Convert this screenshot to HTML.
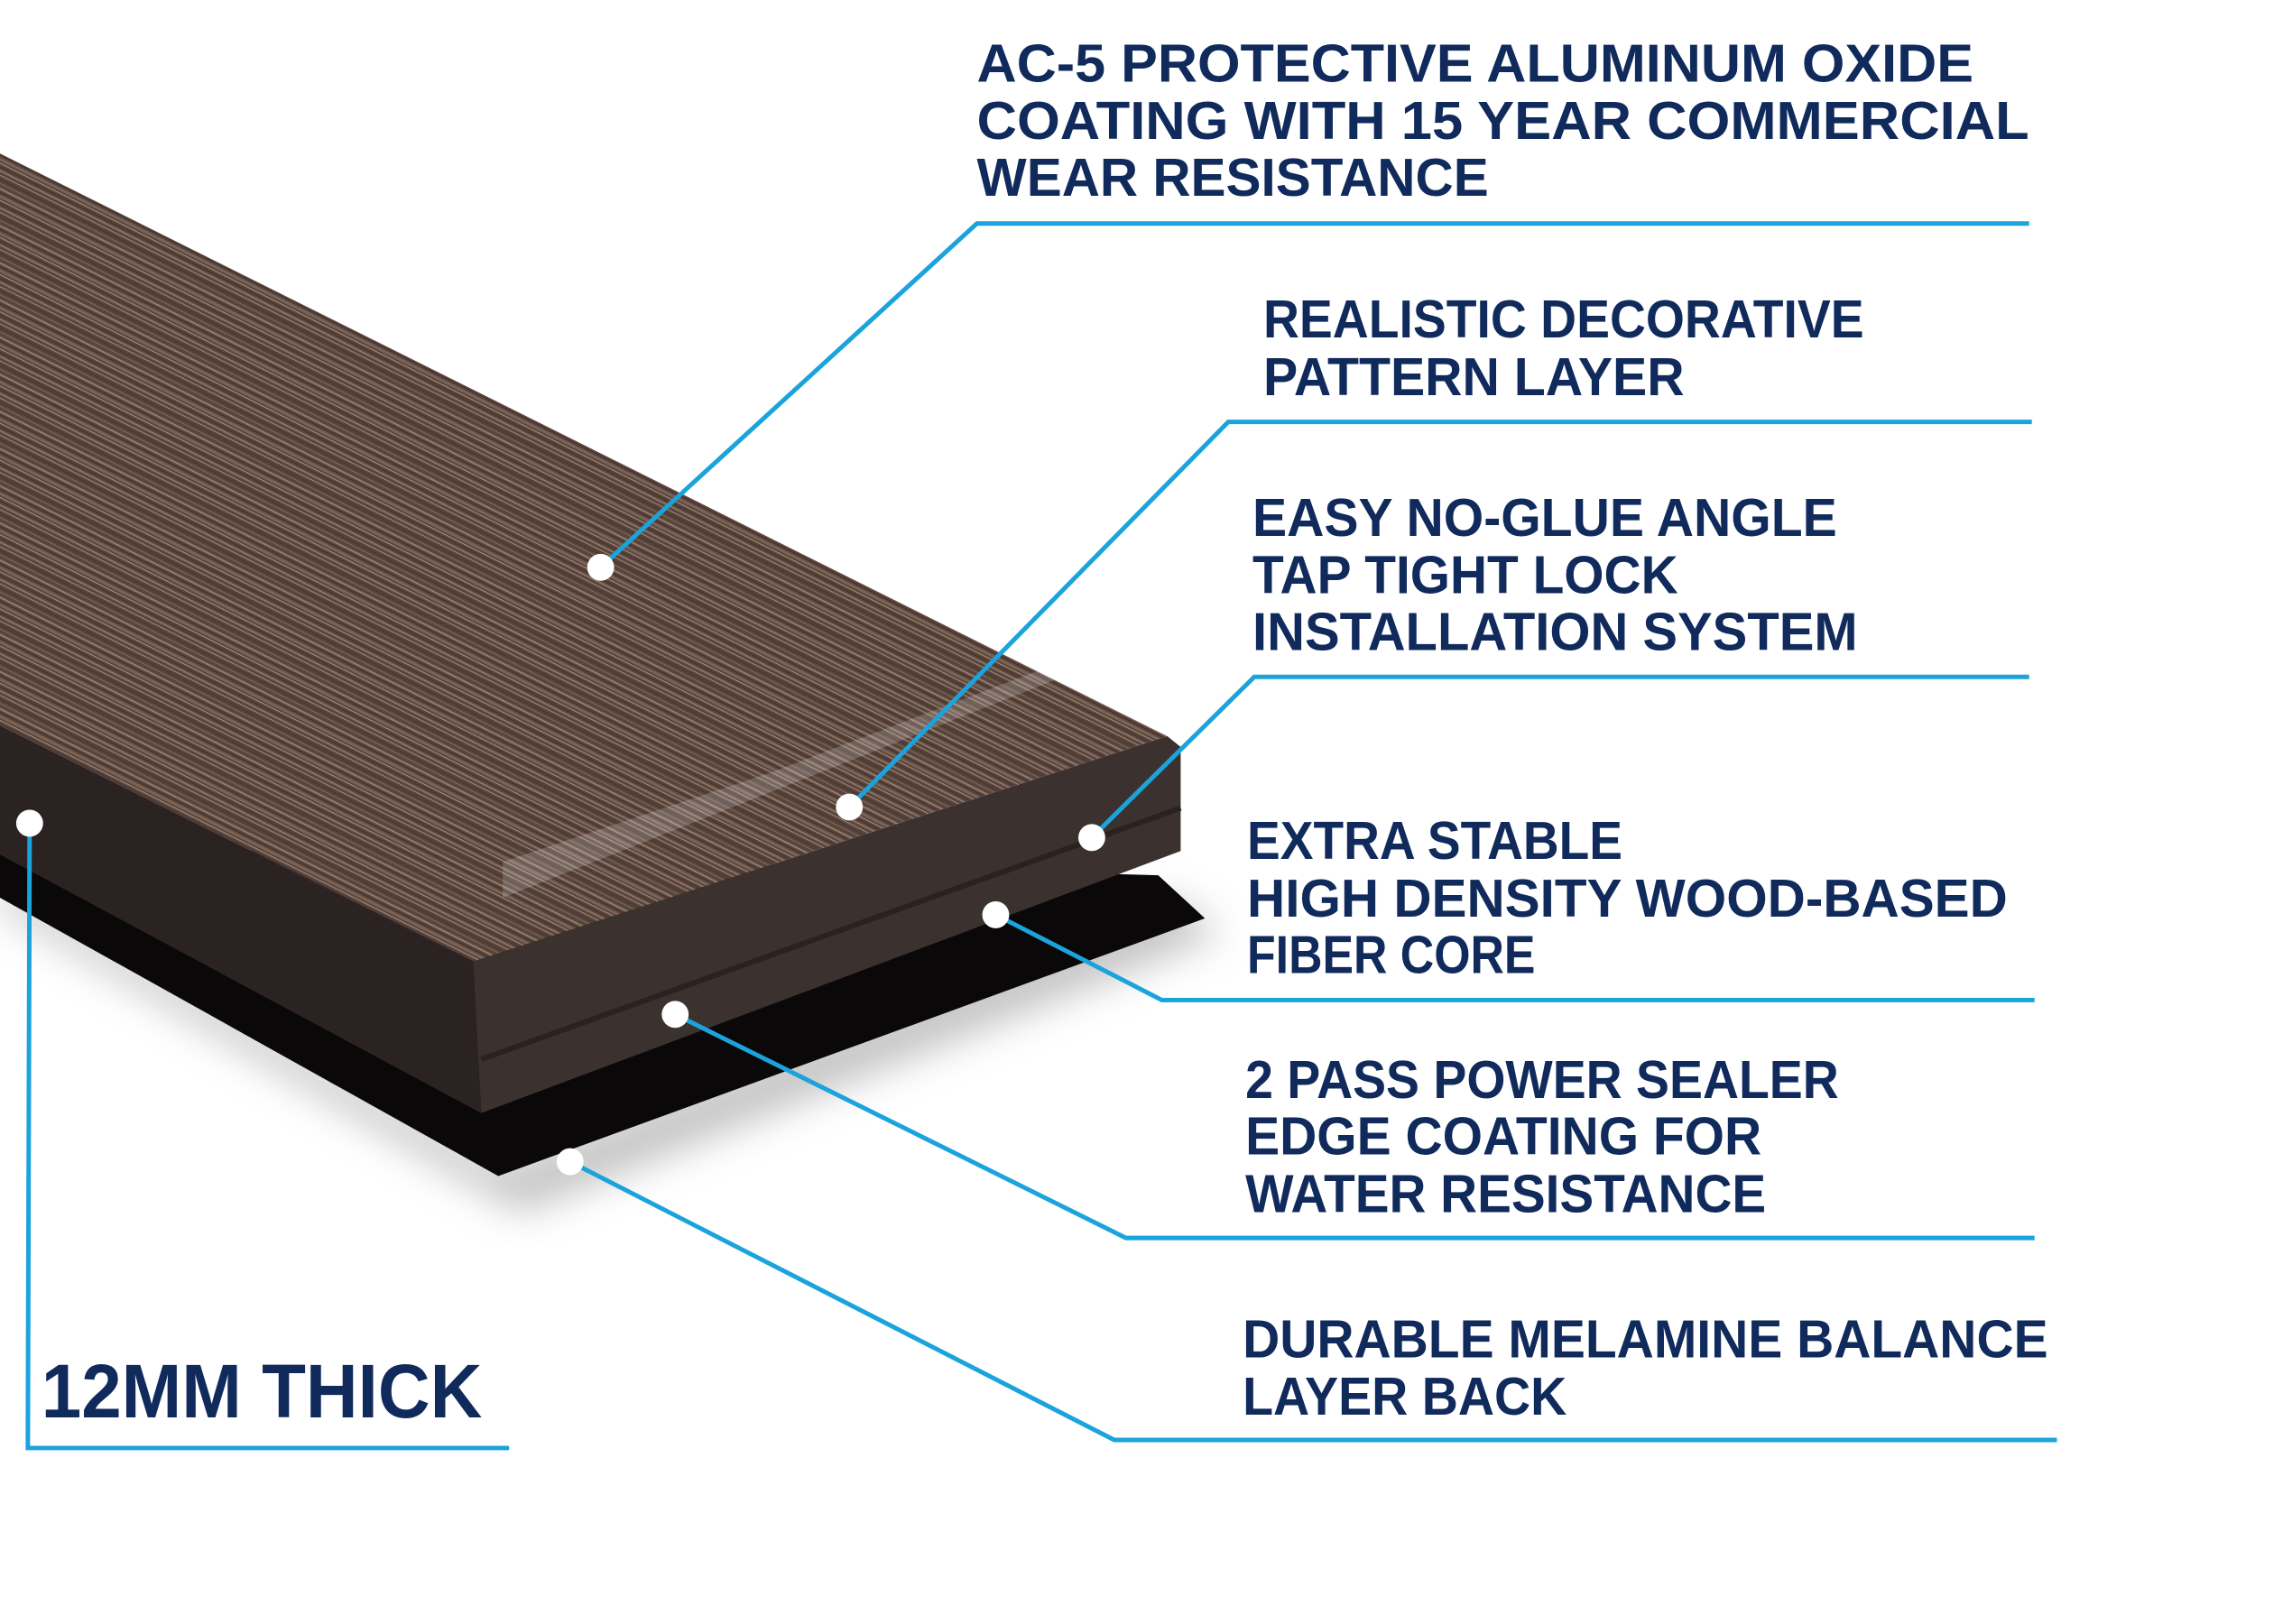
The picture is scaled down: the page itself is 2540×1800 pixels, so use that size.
<!DOCTYPE html>
<html><head><meta charset="utf-8"><style>
html,body{margin:0;padding:0;background:#fff;}
svg{display:block;}
text{font-family:"Liberation Sans",sans-serif;font-weight:bold;fill:#102a5c;}
</style></head><body>
<svg width="2540" height="1800" viewBox="0 0 2540 1800" xmlns="http://www.w3.org/2000/svg">
<defs>
<pattern id="grain" patternUnits="userSpaceOnUse" width="400" height="37" patternTransform="rotate(26.6)">
<rect width="400" height="37" fill="#5a453d"/>
<rect y="2" width="400" height="2" fill="#927b6b"/>
<rect y="6" width="400" height="1" fill="#3e2f2a"/>
<rect y="9" width="400" height="3" fill="#7a6457"/>
<rect y="14" width="400" height="1" fill="#a89080"/>
<rect y="17" width="400" height="2" fill="#4a3832"/>
<rect y="21" width="400" height="2" fill="#8a7264"/>
<rect y="26" width="400" height="1" fill="#a08979"/>
<rect y="29" width="400" height="3" fill="#4e3c35"/>
<rect y="34" width="400" height="1" fill="#806a5c"/>
</pattern>
<filter id="blur"><feGaussianBlur stdDeviation="22"/></filter>
</defs>
<g transform="scale(0.995)">
<polygon points="0,1010 580,1350 1360,1040 1300,1000 560,1300 0,980" fill="#999" filter="url(#blur)" opacity="0.6"/>
<polygon points="0,940 0,1000 555,1310 1342,1023 1290,975" fill="#0a0808"/>
<polygon points="0,808 527,1071 536,1240 0,952" fill="#2b2321"/>
<polygon points="527,1071 1300,820 1315,832 1315,948 536,1240" fill="#3b3230"/>
<line x1="536" y1="1180" x2="1315" y2="900" stroke="#2a2220" stroke-width="6"/>
<polygon points="0,171 1300,820 527,1071 0,808" fill="url(#grain)"/>
<polygon points="560,1000 1275,718 1280,700 860,860 560,960" fill="#ffffff" opacity="0.18"/>
<g stroke="#1ba3dc" stroke-width="5" fill="none">
<polyline points="669,632 1088,249 2260,249"/>
<polyline points="946,899 1368,470 2263,470"/>
<polyline points="1216,933 1397,754 2260,754"/>
<polyline points="1109,1019 1294,1114 2266,1114"/>
<polyline points="752,1130 1254,1379 2266,1379"/>
<polyline points="635,1294 1241,1604 2291,1604"/>
<polyline points="33,917 31,1613 567,1613"/>
</g>
<g fill="#fff">
<circle cx="669" cy="632" r="15"/>
<circle cx="946" cy="899" r="15"/>
<circle cx="1216" cy="933" r="15"/>
<circle cx="1109" cy="1019" r="15"/>
<circle cx="752" cy="1130" r="15"/>
<circle cx="635" cy="1294" r="15"/>
<circle cx="33" cy="917" r="15"/>
</g>
<g font-size="60">
<text x="1088" y="91" textLength="1110" lengthAdjust="spacingAndGlyphs">AC-5 PROTECTIVE ALUMINUM OXIDE</text>
<text x="1088" y="155" textLength="1172" lengthAdjust="spacingAndGlyphs">COATING WITH 15 YEAR COMMERCIAL</text>
<text x="1088" y="218" textLength="570" lengthAdjust="spacingAndGlyphs">WEAR RESISTANCE</text>
<text x="1407" y="376" textLength="669" lengthAdjust="spacingAndGlyphs">REALISTIC DECORATIVE</text>
<text x="1407" y="440" textLength="469" lengthAdjust="spacingAndGlyphs">PATTERN LAYER</text>
<text x="1395" y="597" textLength="651" lengthAdjust="spacingAndGlyphs">EASY NO-GLUE ANGLE</text>
<text x="1395" y="661" textLength="474" lengthAdjust="spacingAndGlyphs">TAP TIGHT LOCK</text>
<text x="1395" y="724" textLength="674" lengthAdjust="spacingAndGlyphs">INSTALLATION SYSTEM</text>
<text x="1389" y="957" textLength="418" lengthAdjust="spacingAndGlyphs">EXTRA STABLE</text>
<text x="1389" y="1021" textLength="847" lengthAdjust="spacingAndGlyphs">HIGH DENSITY WOOD-BASED</text>
<text x="1389" y="1084" textLength="321" lengthAdjust="spacingAndGlyphs">FIBER CORE</text>
<text x="1387" y="1223" textLength="661" lengthAdjust="spacingAndGlyphs">2 PASS POWER SEALER</text>
<text x="1387" y="1286" textLength="575" lengthAdjust="spacingAndGlyphs">EDGE COATING FOR</text>
<text x="1387" y="1350" textLength="580" lengthAdjust="spacingAndGlyphs">WATER RESISTANCE</text>
<text x="1384" y="1512" textLength="897" lengthAdjust="spacingAndGlyphs">DURABLE MELAMINE BALANCE</text>
<text x="1384" y="1576" textLength="361" lengthAdjust="spacingAndGlyphs">LAYER BACK</text>
</g>
<text x="46" y="1579" font-size="85" textLength="491" lengthAdjust="spacingAndGlyphs">12MM THICK</text>
</g>
</svg>
</body></html>
